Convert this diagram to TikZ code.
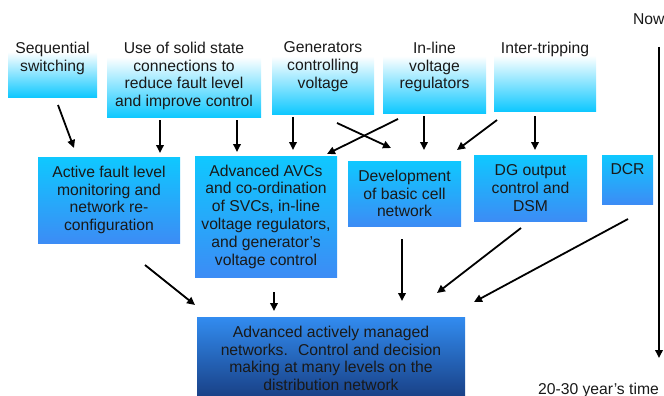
\documentclass[tikz,border=0pt]{standalone}
\usepackage{fontspec}
\setmainfont{Liberation Sans}
\usetikzlibrary{arrows.meta}
\definecolor{cyanB}{RGB}{15,200,255}
\definecolor{blueM}{RGB}{60,140,245}
\definecolor{blueT}{RGB}{50,140,240}
\definecolor{navy}{RGB}{25,65,135}
\pgfdeclareverticalshading{topfade}{100bp}{color(0bp)=(cyanB); color(25bp)=(cyanB); color(62bp)=(white); color(100bp)=(white)}
\newcommand{\tbx}[4]{\parbox[c][#2pt][t]{#1pt}{\centering\vspace*{#3pt}#4}}
\newcommand{\cbx}[3]{\parbox[c][#2pt][c]{#1pt}{\centering #3}}
\tikzset{
  txt/.style={inner sep=0pt, outer sep=0pt, font=\fontsize{15.7pt}{17.8pt}\selectfont, text=black!90},
  boxbase/.style={txt},
  topbox/.style={boxbase, shade, shading=topfade},
  midbox/.style={boxbase, top color=cyanB, bottom color=blueM},
  lowbox/.style={boxbase, top color=blueT, bottom color=navy},
  arr/.style={line width=1.8pt, -{Triangle[length=8pt,width=7.5pt]}}
}
\begin{document}
\begin{tikzpicture}[x=1pt,y=-1pt]
\useasboundingbox (0,0) rectangle (664,396);
% top row
\node[topbox] (seq) at (52.5,66.5) {\tbx{89}{61}{6}{Sequential\\switching}};
\node[topbox] (sol) at (184,76.5) {\tbx{154}{81}{6}{Use of solid state\\connections to\\reduce fault level\\and improve control}};
\node[topbox] (gen) at (323,75) {\tbx{102}{78}{6}{Generators\\controlling\\voltage}};
\node[topbox] (inl) at (434.5,74.5) {\tbx{103}{77}{6}{In-line\\voltage\\regulators}};
\node[topbox] (int) at (545,73.5) {\tbx{102}{75}{6}{Inter-tripping}};
% middle row
\node[midbox] (afl) at (109,200) {\cbx{142}{86}{Active fault level\\monitoring and\\network re-\\configuration}};
\node[midbox] (avc) at (266,216.5) {\cbx{142}{121}{Advanced AVCs\\and co-ordination\\of SVCs, in-line\\voltage regulators,\\and generator's\\voltage control}};
\node[midbox] (dev) at (404.5,193.5) {\cbx{113}{65}{Development\\of basic cell\\network}};
\node[midbox] (dgo) at (530.5,188) {\cbx{113}{66}{DG output\\control and\\DSM}};
\node[midbox] (dcr) at (627.5,179.5) {\tbx{51}{49}{9}{DCR}};
% bottom
\node[lowbox] (amn) at (331,356.5) {\tbx{268}{79}{9}{Advanced actively managed\\networks.~ Control and decision\\making at many levels on the\\distribution network}};
% timeline
\node[txt, anchor=base west] (now) at (633,25) {Now};
\node[txt, anchor=base] (yrs) at (598.5,394) {20-30 year's time};
\coordinate (ttop) at (659,47);
\coordinate (tbot) at (659,358);
\draw[arr] (ttop) -- (tbot);
% arrows top -> middle
\draw[arr] ([xshift=5.5pt,yshift=-8pt]seq.south) -- ([xshift=-35pt,yshift=9pt]afl.north);
\draw[arr] ([xshift=-24pt,yshift=-3pt]sol.south) -- ([xshift=51pt,yshift=4pt]afl.north);
\draw[arr] ([xshift=53pt,yshift=-3pt]sol.south) -- ([xshift=-29pt,yshift=4pt]avc.north);
\draw[arr] ([xshift=-30pt,yshift=-3pt]gen.south) -- ([xshift=27pt,yshift=6pt]avc.north);
\draw[arr] ([xshift=14pt,yshift=-9pt]gen.south) -- ([xshift=-13.5pt,yshift=13pt]dev.north);
\draw[arr] ([xshift=-36.5pt,yshift=-6pt]inl.south) -- ([xshift=-10pt,yshift=2pt]avc.north east);
\draw[arr] ([xshift=-10.5pt,yshift=-3pt]inl.south) -- ([xshift=19.5pt,yshift=11pt]dev.north);
\draw[arr] ([xshift=-48pt,yshift=-9pt]int.south) -- ([xshift=-4pt,yshift=11pt]dev.north east);
\draw[arr] ([xshift=-10pt,yshift=-5pt]int.south) -- ([xshift=4.5pt,yshift=5pt]dgo.north);
% arrows middle -> bottom
\draw[arr] ([xshift=36pt,yshift=-22pt]afl.south) -- ([xshift=-2pt,yshift=12pt]amn.north west);
\draw[arr] ([xshift=8pt,yshift=-15pt]avc.south) -- ([xshift=-57pt,yshift=6pt]amn.north);
\draw[arr] ([xshift=-2.5pt,yshift=-13pt]dev.south) -- ([xshift=71pt,yshift=16pt]amn.north);
\draw[arr] ([xshift=-9.5pt,yshift=-7pt]dgo.south) -- ([xshift=-28pt,yshift=24pt]amn.north east);
\draw[arr] ([xshift=0.5pt,yshift=-15pt]dcr.south) -- ([xshift=9pt,yshift=15pt]amn.north east);
\end{tikzpicture}
\end{document}
